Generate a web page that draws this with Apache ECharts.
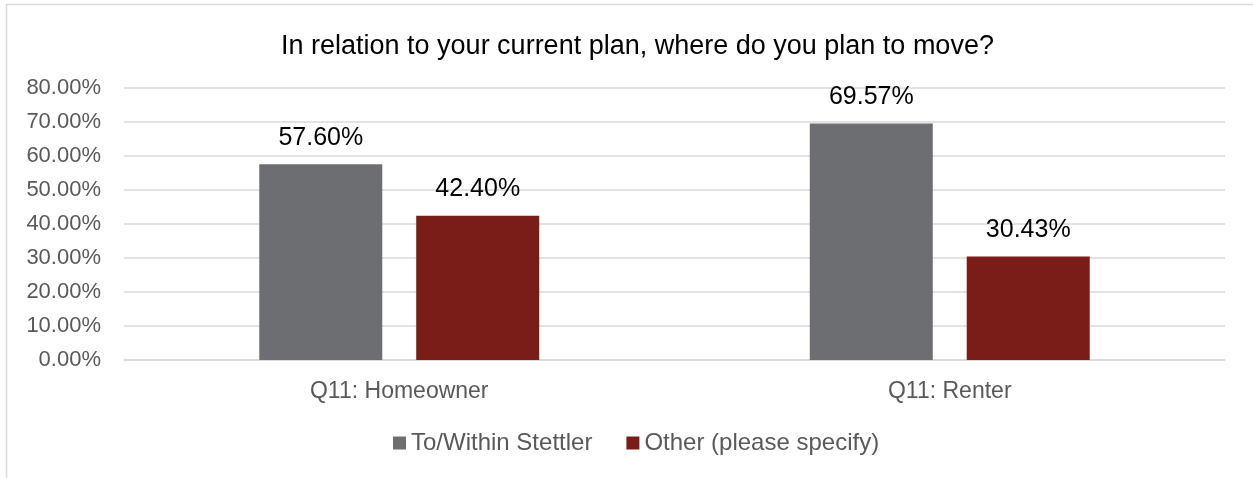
<!DOCTYPE html>
<html>
<head>
<meta charset="utf-8">
<script src="https://cdn.jsdelivr.net/npm/echarts@6/dist/echarts.min.js"></script>
<style>
  html, body { margin: 0; padding: 0; background: #fff; }
  #chart { width: 1253px; height: 478px; }
</style>
</head>
<body>
<div id="chart"></div>
<script>
// Survey answers, in percent
const categories = ['Q11: Homeowner', 'Q11: Renter'];
const seriesNames = ['To/Within Stettler', 'Other (please specify)'];
const withinStettler = [57.60, 69.57];
const otherPlace = [42.40, 30.43];
const axisMax = 80;
const axisStep = 10;

const fontFamily = 'Liberation Sans, Arial, sans-serif';
const colors = ['#6D6E71', '#7A1C18'];

const chart = echarts.init(document.getElementById('chart'), null, { renderer: 'canvas' });

const barLabel = {
  show: true,
  position: 'top',
  distance: 14,
  color: '#000',
  fontSize: 25,
  fontFamily,
  formatter: p => p.value.toFixed(2) + '%'
};

chart.setOption({
  animation: false,
  backgroundColor: '#fff',
  color: colors,
  title: {
    text: 'In relation to your current plan, where do you plan to move?',
    left: 276,
    top: 28,
    textStyle: { fontFamily, fontSize: 27, fontWeight: 'normal', color: '#000' }
  },
  legend: {
    bottom: 18,
    left: 388,
    itemWidth: 13,
    itemHeight: 13,
    itemGap: 34,
    icon: 'rect',
    textStyle: { fontFamily, fontSize: 24, color: '#595959' },
    data: seriesNames
  },
  grid: { left: 124, right: 28, top: 88, bottom: 118, containLabel: false },
  xAxis: {
    type: 'category',
    data: categories,
    axisLine: { show: true, lineStyle: { color: '#D9D9D9', width: 1.5 } },
    axisTick: { show: false },
    axisLabel: { fontFamily, fontSize: 23, color: '#595959', margin: 20 }
  },
  yAxis: {
    type: 'value',
    min: 0,
    max: axisMax,
    interval: axisStep,
    axisLine: { show: false },
    axisTick: { show: false },
    splitLine: { lineStyle: { color: '#D9D9D9', width: 1.5 } },
    axisLabel: {
      fontFamily, fontSize: 22, color: '#595959', margin: 23,
      formatter: v => v.toFixed(2) + '%'
    }
  },
  series: [
    {
      name: seriesNames[0],
      type: 'bar',
      data: withinStettler,
      barWidth: 123,
      barGap: '27.6%',
      label: barLabel
    },
    {
      name: seriesNames[1],
      type: 'bar',
      data: otherPlace,
      barWidth: 123,
      label: barLabel
    }
  ],
  graphic: [{
    type: 'rect',
    silent: true,
    shape: { x: 6.5, y: 4.5, width: 1300, height: 520 },
    style: { fill: 'none', stroke: '#D9D9D9', lineWidth: 1.5 }
  }]
});
</script>
</body>
</html>
